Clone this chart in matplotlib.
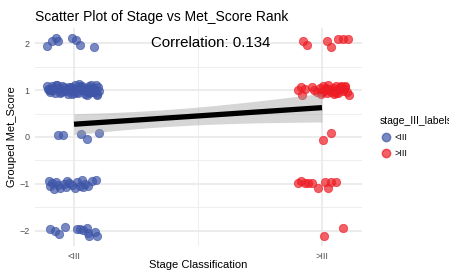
import numpy as np
import matplotlib
matplotlib.use("Agg")
import matplotlib.pyplot as plt
from matplotlib.lines import Line2D

plt.rcParams['font.family'] = ['Liberation Sans', 'DejaVu Sans']

# tick labels for the two stage groups
stage_labels = ["<III", ">III"]

# jittered points, <III group (x around 1)
blue_x = [0.891, 0.911, 0.927, 0.935, 0.992, 1.008, 1.024, 1.081,
          0.892, 0.905, 0.918, 0.931, 0.897, 0.944, 0.958, 0.963, 0.975, 0.912,
          0.986, 0.995, 1.003, 1.018, 1.027, 1.034, 1.046, 1.052, 1.061, 1.073,
          1.079, 1.088, 1.094, 1.101, 0.923, 0.939, 0.951, 0.968, 0.981, 0.992,
          1.009, 1.014, 1.023, 1.039, 1.043, 1.057, 1.066, 1.069, 1.083, 1.097,
          0.901, 0.927, 0.947, 0.971, 1.001, 1.031, 1.048, 1.076, 1.091, 1.059,
          0.915, 0.988, 0.908, 0.955, 1.021, 1.064, 1.086,
          0.935, 0.956, 1.028, 1.052, 1.101,
          0.898, 0.905, 0.912, 0.921, 0.927, 0.936, 0.944, 0.958, 0.967, 0.972,
          0.981, 0.993, 1.004, 1.012, 1.024, 1.031, 1.038, 1.046, 1.055, 1.071,
          1.089,
          0.903, 0.923, 0.940, 0.964, 1.012, 1.024, 1.036, 1.052, 1.056, 1.060,
          1.085, 1.093]
blue_y = [1.94, 2.04, 2.10, 2.04, 2.10, 2.06, 1.96, 1.91,
          1.08, 0.96, 1.05, 1.10, 1.02, 0.94, 1.07, 1.01, 0.92, 1.09,
          1.04, 0.97, 1.11, 0.93, 1.06, 0.99, 1.03, 0.90, 1.08, 0.95,
          1.02, 1.10, 0.91, 0.98, 0.93, 1.04, 1.09, 0.97, 1.06, 0.92,
          1.03, 0.95, 1.08, 1.00, 0.91, 1.05, 0.96, 1.11, 1.01, 1.07,
          0.99, 1.10, 0.95, 1.02, 0.94, 1.09, 0.97, 1.04, 0.90, 0.93,
          1.01, 1.06, 1.00, 0.98, 1.12, 1.03, 0.96,
          0.04, 0.04, 0.06, -0.04, 0.08,
          -0.94, -1.05, -0.98, -1.10, -0.96, -1.03, -1.08, -0.99, -1.06, -0.93,
          -0.97, -1.02, -1.09, -0.95, -1.04, -0.92, -1.07, -1.00, -1.05, -0.94,
          -0.92,
          -1.96, -2.00, -2.06, -1.91, -1.96, -1.96, -1.98, -1.94, -2.04, -2.11,
          -2.02, -2.11]

# jittered points, >III group (x around 2)
red_x = [1.923, 1.940, 2.020, 2.036, 2.065, 2.085, 2.105,
         1.903, 1.915, 1.919, 1.958, 1.967, 1.933, 1.978, 1.991, 1.996, 2.004,
         2.009, 2.013, 2.021, 2.026, 2.031, 2.038, 2.043, 2.049, 2.055, 2.061,
         2.066, 2.072, 2.078, 2.083, 2.089, 2.094, 2.101, 2.107, 2.015, 2.047,
         2.069, 2.092, 1.999, 2.035, 2.058,
         2.004, 2.036,
         1.903, 1.915, 1.931, 1.944, 1.960, 1.984, 2.012, 2.024, 2.036, 2.056,
         2.085, 2.008]
red_y = [2.04, 1.96, 2.04, 1.91, 2.09, 2.09, 2.08,
         0.99, 1.06, 0.90, 1.07, 1.00, 1.03, 0.95, 1.04, 0.91, 1.08,
         0.97, 1.02, 0.93, 1.10, 0.99, 0.96, 1.05, 0.92, 1.08, 1.01,
         0.94, 1.06, 1.09, 0.98, 1.03, 1.07, 0.95, 0.90, 1.05, 0.97,
         1.02, 1.09, 0.96, 1.01, 0.93,
         -0.06, 0.08,
         -0.98, -0.94, -0.98, -0.98, -0.98, -1.09, -0.96, -1.09, -0.96, -0.96,
         -1.94, -2.11]

corr_text = "Correlation: 0.134"

blue_c = "#3F56A8"
red_c = "#EE1C24"

fig = plt.figure(figsize=(4.49, 2.75), dpi=100)
ax = fig.add_axes([35/449, 1-246/275, (362-35)/449, (246-28)/275])

# grid like theme_minimal
for v in [-1.5, -0.5, 0.5, 1.5]:
    ax.axhline(v, color="#EBEBEB", lw=0.6, zorder=0)
for v in [-2, -1, 0, 1, 2]:
    ax.axhline(v, color="#EBEBEB", lw=1.3, zorder=0)
ax.axvline(1.5, color="#EBEBEB", lw=0.6, zorder=0)
for v in [1, 2]:
    ax.axvline(v, color="#EBEBEB", lw=1.3, zorder=0)

ax.scatter(blue_x, blue_y, s=36, color=blue_c, alpha=0.7, edgecolors=blue_c,
           linewidths=0.6, zorder=2)
ax.scatter(red_x, red_y, s=36, color=red_c, alpha=0.7, edgecolors=red_c,
           linewidths=0.6, zorder=2)

# linear fit on the grouped scores vs stage code
xs = np.r_[np.ones(len(blue_y)), 2*np.ones(len(red_y))]
ys = np.round(np.r_[blue_y, red_y])
b, a = np.polyfit(xs, ys, 1)
n = len(xs)
resid = ys - (a + b*xs)
s = np.sqrt(np.sum(resid**2)/(n-2))
xg = np.linspace(1, 2, 80)
yg = a + b*xg
se = s*np.sqrt(1/n + (xg - xs.mean())**2/np.sum((xs - xs.mean())**2))
ax.fill_between(xg, yg - 1.975*se, yg + 1.975*se, color="#999999",
                alpha=0.4, lw=0, zorder=3)
ax.plot(xg, yg, color="black", lw=3.8, zorder=4, solid_capstyle="butt")

ax.text(1.55, 2.0, corr_text, ha="center", va="center", fontsize=10.8, zorder=5)

ax.set_xlim(1 - 39/248, 2 + 40/248)
ax.set_ylim(-2.32, 2.32)
ax.set_xticks([1, 2])
ax.set_xticklabels(stage_labels)
ax.set_yticks([-2, -1, 0, 1, 2])
ax.set_yticklabels(["\u22122", "\u22121", "0", "1", "2"])
ax.tick_params(length=0, labelsize=6.5, labelcolor="#4D4D4D", pad=4)
for sp in ax.spines.values():
    sp.set_visible(False)

fig.text(35/449, 1-17/275, "Scatter Plot of Stage vs Met_Score Rank",
         fontsize=10, va="center", ha="left")
fig.text(198/449, 1-265/275, "Stage Classification", fontsize=8,
         ha="center", va="center")
fig.text(12/449, 1-137/275, "Grouped Met_Score", fontsize=8,
         rotation=90, ha="center", va="center")

handles = [Line2D([], [], marker="o", ls="", markersize=6, color=blue_c, alpha=0.7),
           Line2D([], [], marker="o", ls="", markersize=6, color=red_c, alpha=0.7)]
leg = fig.legend(handles, stage_labels, title="stage_III_labels",
                 loc="upper left", bbox_to_anchor=(372/449, 1-108/275),
                 frameon=False, fontsize=6.5, title_fontsize=7.5,
                 alignment="left", handletextpad=0.4, labelspacing=0.75,
                 handlelength=1.2)

fig.savefig("out.png", dpi=100)
